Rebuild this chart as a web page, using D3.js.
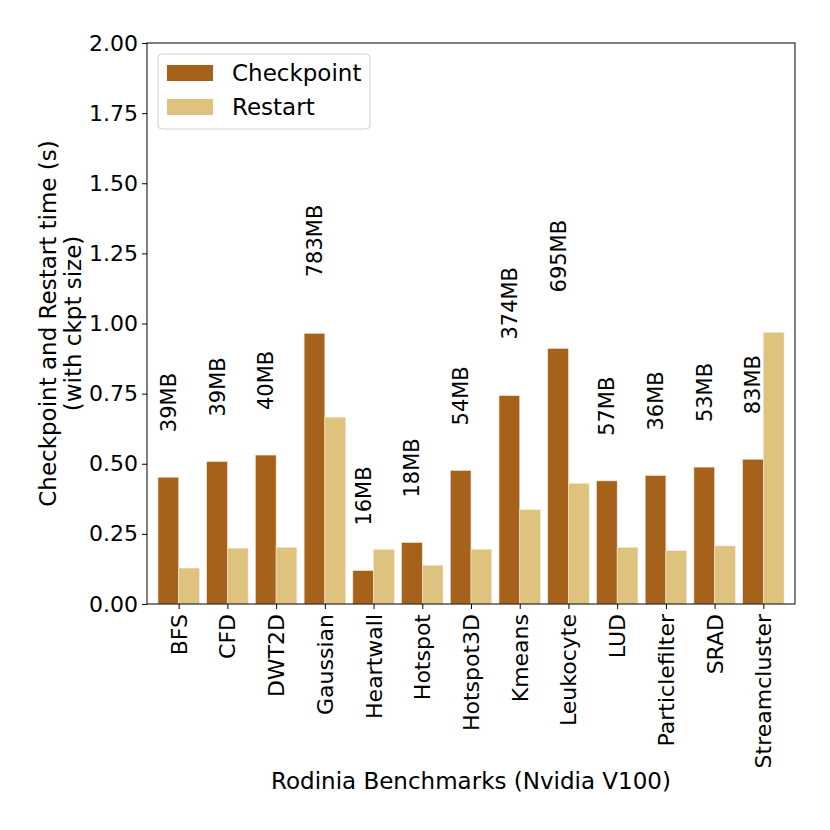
<!DOCTYPE html>
<html>
<head>
<meta charset="utf-8">
<script src="https://cdn.jsdelivr.net/npm/d3@7"></script>
<style>
  body { margin: 0; background: #fff; }
  svg text { font-family: "DejaVu Sans", sans-serif; fill: #000; }
</style>
</head>
<body>
<div id="chart"></div>
<script>
// benchmarks and times (s)
var benchmarks = ['BFS', 'CFD', 'DWT2D', 'Gaussian', 'Heartwall', 'Hotspot', 'Hotspot3D',
  'Kmeans', 'Leukocyte', 'LUD', 'Particlefilter', 'SRAD', 'Streamcluster'];
var checkpoint = [0.452, 0.508, 0.531, 0.965, 0.119, 0.219, 0.476, 0.743, 0.911, 0.439, 0.458, 0.488, 0.516];
var restart = [0.128, 0.199, 0.202, 0.666, 0.194, 0.138, 0.195, 0.336, 0.430, 0.202, 0.190, 0.207, 0.968];
var ckptSize = ['39MB', '39MB', '40MB', '783MB', '16MB', '18MB', '54MB', '374MB', '695MB', '57MB', '36MB', '53MB', '83MB'];
var yTicks = [0, 0.25, 0.5, 0.75, 1.0, 1.25, 1.5, 1.75, 2.0];

var series = [
  { name: 'Checkpoint', values: checkpoint, color: '#a6611a', shift: -1 },
  { name: 'Restart', values: restart, color: '#dfc27d', shift: 0 }
];

var W = 830, H = 830;
var margin = { left: 147, right: 35, top: 43, bottom: 226 };
var barW = 0.425;

var svg = d3.select('#chart').append('svg')
  .attr('width', W).attr('height', H);

var x = d3.scaleLinear()
  .domain([-0.65, benchmarks.length - 1 + 0.65])
  .range([margin.left, W - margin.right]);

var y = d3.scaleLinear()
  .domain([0, 2])
  .range([H - margin.bottom, margin.top]);

// bars
series.forEach(function(s){
  svg.append('g').selectAll('rect')
    .data(s.values)
    .enter().append('rect')
      .attr('x', function(d, i){ return x(i + s.shift * barW); })
      .attr('y', function(d){ return y(d); })
      .attr('width', x(barW) - x(0))
      .attr('height', function(d){ return y(0) - y(d); })
      .attr('fill', s.color)
      .attr('stroke', '#f3e6d6')
      .attr('stroke-width', 0.6);
});

// checkpoint size labels, rotated, sitting above the checkpoint bar
svg.append('g').selectAll('text')
  .data(ckptSize)
  .enter().append('text')
    .attr('transform', function(d, i){
      var gap = d.length > 4 ? 56 : 45;
      return 'translate(' + (x(i - barW / 2) + 7.5) + ',' + (y(checkpoint[i]) - gap) + ') rotate(-90)';
    })
    .attr('font-size', '21px')
    .text(function(d){ return d; });

// axes
var yAxis = d3.axisLeft(y)
  .tickValues(yTicks)
  .tickFormat(d3.format('.2f'))
  .tickSize(5).tickPadding(4);

var xAxis = d3.axisBottom(x)
  .tickValues(d3.range(benchmarks.length))
  .tickFormat(function(i){ return benchmarks[i]; })
  .tickSize(5);

var gy = svg.append('g')
  .attr('transform', 'translate(' + margin.left + ',0)')
  .call(yAxis);
gy.select('.domain').remove();
gy.selectAll('text').attr('font-size', '22px').attr('font-family', 'DejaVu Sans');
gy.selectAll('line').attr('stroke', '#000').attr('stroke-width', 1);

var gx = svg.append('g')
  .attr('transform', 'translate(0,' + (H - margin.bottom) + ')')
  .call(xAxis);
gx.select('.domain').remove();
gx.selectAll('line').attr('stroke', '#000').attr('stroke-width', 1);
gx.selectAll('text')
  .attr('font-size', '22px')
  .attr('font-family', 'DejaVu Sans')
  .attr('text-anchor', 'end')
  .attr('dy', null)
  .attr('y', 0)
  .attr('transform', 'translate(0,10) rotate(-90)')
  .attr('dominant-baseline', 'central');

// frame
svg.append('rect')
  .attr('x', margin.left).attr('y', margin.top)
  .attr('width', W - margin.left - margin.right)
  .attr('height', H - margin.top - margin.bottom)
  .attr('fill', 'none').attr('stroke', '#000').attr('stroke-width', 1);

// axis titles
svg.append('text')
  .attr('x', (margin.left + W - margin.right) / 2)
  .attr('y', 789)
  .attr('text-anchor', 'middle')
  .attr('font-size', '23px')
  .text('Rodinia Benchmarks (Nvidia V100)');

var cy = (margin.top + H - margin.bottom) / 2;
[['Checkpoint and Restart time (s)', 56], ['(with ckpt size)', 81]].forEach(function(l){
  svg.append('text')
    .attr('transform', 'translate(' + l[1] + ',' + cy + ') rotate(-90)')
    .attr('text-anchor', 'middle')
    .attr('font-size', '23px')
    .text(l[0]);
});

// legend
var lg = svg.append('g').attr('transform', 'translate(158,54)');
lg.append('rect')
  .attr('width', 212).attr('height', 75)
  .attr('rx', 4)
  .attr('fill', '#fff').attr('fill-opacity', 0.8)
  .attr('stroke', '#d0d0d0');
series.forEach(function(s, i){
  var row = lg.append('g').attr('transform', 'translate(9,' + (11 + i * 34) + ')');
  row.append('rect')
    .attr('width', 46).attr('height', 16)
    .attr('fill', s.color);
  row.append('text')
    .attr('x', 65).attr('y', 16)
    .attr('font-size', '23px')
    .text(s.name);
});
</script>
</body>
</html>
